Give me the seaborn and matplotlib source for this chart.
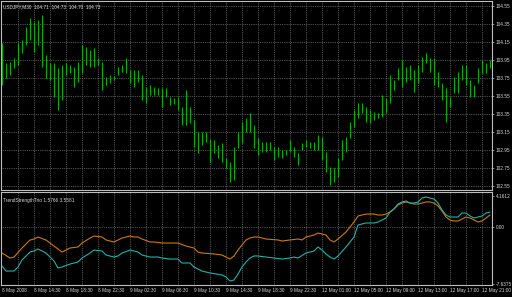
import matplotlib
matplotlib.use("Agg")
import matplotlib.pyplot as plt
import matplotlib.transforms as mtransforms
import numpy as np
import seaborn as sns

# ---------------- data ----------------
highs = [104.14,103.92,103.93,103.97,104.14,104.17,104.32,104.42,104.37,104.39,
         104.45,104.01,103.92,103.92,103.86,103.89,103.92,103.89,103.87,103.93,
         104.12,104.09,104.06,104.08,103.97,103.93,103.76,103.78,103.77,103.87,
         103.89,103.97,103.84,103.84,103.84,103.78,103.65,103.67,103.65,103.64,
         103.64,103.64,103.54,103.53,103.54,103.43,103.62,103.43,103.28,103.15,
         103.15,103.15,103.07,103.06,103.01,103.03,102.86,102.82,102.98,103.15,
         103.26,103.31,103.36,103.23,103.08,103.04,103.04,103.04,102.98,102.98,
         102.95,102.95,103.06,102.98,102.92,103.03,103.06,103.04,103.04,103.12,
         103.09,102.93,102.76,102.75,102.86,103.06,103.09,103.26,103.39,103.47,
         103.47,103.43,103.39,103.37,103.36,103.56,103.53,103.78,103.73,103.86,
         103.95,103.87,103.89,103.84,103.89,103.98,104.03,103.97,103.97,103.82,
         103.69,103.64,103.54,103.76,103.82,103.89,103.89,103.73,103.67,103.86,
         103.95,103.92,103.95]
lows = [103.67,103.75,103.78,103.86,103.89,104.03,104.12,104.17,104.04,104.12,
        103.87,103.75,103.73,103.54,103.39,103.51,103.78,103.81,103.65,103.71,
        103.81,103.89,103.87,103.87,103.89,103.62,103.67,103.69,103.73,103.78,
        103.82,103.81,103.69,103.65,103.71,103.51,103.47,103.56,103.56,103.56,
        103.43,103.54,103.45,103.46,103.39,103.23,103.23,103.25,102.98,102.92,
        103.01,103.04,102.82,102.92,102.86,102.82,102.75,102.59,102.62,102.97,
        103.03,103.15,103.15,102.97,102.89,102.93,102.93,102.95,102.84,102.87,
        102.86,102.89,102.93,102.87,102.78,102.95,102.98,102.97,102.95,102.95,
        102.84,102.71,102.56,102.59,102.65,102.84,102.93,103.08,103.21,103.31,
        103.36,103.26,103.25,103.28,103.31,103.32,103.36,103.47,103.62,103.73,
        103.65,103.71,103.73,103.59,103.69,103.82,103.92,103.82,103.67,103.65,
        103.51,103.26,103.43,103.58,103.58,103.73,103.67,103.54,103.54,103.69,
        103.81,103.81,103.86]

orange_idx = [0,2,3,5,7,8,9,11,12,13,15,16,17,19,20,22,23,25,26,28,30,32,33,34,35,
              37,38,40,42,44,46,48,49,50,53,55,56,57,58,59,60,61,62,63,64,66,69,70,
              72,74,75,76,78,79,81,82,83,84,86,87,88,89,90,91,93,94,95,96,97,98,99,
              100,101,102,103,104,105,106,107,108,109,110,111,112,113,114,115,116,
              117,118,119,120,121,122]
orange_val = [-3.49,-4.16,-4.03,-2.82,-1.75,-1.61,-1.34,-1.74,-2.15,-2.55,-3.36,-3.09,
              -2.82,-2.68,-2.15,-1.48,-1.21,-1.34,-1.74,-2.01,-1.48,-1.21,-1.34,-1.34,
              -1.61,-2.01,-2.01,-2.15,-2.15,-2.15,-2.55,-2.82,-3.36,-3.49,-3.62,-3.76,
              -4.03,-4.30,-3.89,-3.09,-2.42,-1.74,-1.48,-1.34,-1.34,-1.61,-1.74,-1.88,
              -1.74,-1.61,-1.74,-1.34,-1.07,-0.81,-1.07,-1.74,-2.01,-1.61,-0.67,0.0,
              0.67,1.48,1.61,1.74,1.74,1.61,1.61,1.74,2.01,2.42,2.95,3.22,3.36,3.22,
              3.09,3.09,3.22,3.36,3.36,3.22,2.82,2.15,1.34,0.94,0.81,0.81,1.07,1.34,
              1.21,0.94,0.67,0.81,1.21,1.61]

teal_idx = [0,1,3,4,5,7,8,9,11,12,13,14,15,17,19,20,22,23,25,26,28,29,30,32,34,35,
            37,39,40,42,44,45,47,48,50,52,55,56,57,58,59,60,61,62,63,64,66,68,70,72,
            73,74,76,78,79,80,81,82,83,84,86,88,89,91,93,94,96,97,98,99,100,101,102,
            103,104,105,106,107,108,109,110,111,112,113,114,115,116,117,118,119,120,
            121,122]
teal_val = [-5.23,-5.91,-5.91,-5.37,-4.43,-3.36,-3.22,-2.95,-3.49,-4.03,-4.56,-5.50,
            -5.37,-4.97,-4.70,-4.16,-3.49,-3.09,-3.22,-3.76,-4.03,-3.89,-3.49,-3.09,
            -3.36,-3.76,-4.03,-4.03,-4.16,-4.30,-4.30,-4.83,-4.83,-5.37,-5.91,-6.17,
            -6.44,-6.71,-7.25,-7.11,-6.31,-5.37,-4.70,-4.16,-3.89,-3.89,-4.03,-4.16,
            -4.30,-4.16,-4.03,-4.16,-3.49,-3.22,-2.68,-3.09,-3.62,-4.03,-4.30,-3.89,
            -2.68,-1.34,0.27,0.54,0.54,0.67,1.21,2.01,2.42,3.09,3.36,3.49,3.22,3.22,
            3.36,3.89,4.03,3.89,3.76,3.22,2.28,1.61,1.34,1.34,1.34,1.88,1.88,1.48,
            1.21,1.34,1.48,1.88,2.01]

price_ticks = [102.55,102.75,102.95,103.15,103.35,103.55,103.75,103.95,104.15,104.35,104.55]
ind_labels = [4.1612, 0.00, -7.6375]
time_idx = [0,8,16,24,32,40,48,56,64,72,80,88,96,104,112,120]
time_labels = ["8 May 2008","8 May 14:30","8 May 18:30","8 May 22:30","9 May 02:30",
               "9 May 06:30","9 May 10:30","9 May 14:30","9 May 18:30","9 May 22:30",
               "12 May 01:00","12 May 05:00","12 May 09:00","12 May 13:00",
               "12 May 17:00","12 May 21:00"]
main_title = "USDJPY,M30  104.71  104.73  104.70  104.73"
ind_title = "TrendStrengthTrio 1.5766 3.5581"

# ---------------- style ----------------
sns.set_theme(style="dark")
plt.rcParams['font.family'] = ['Liberation Sans', 'DejaVu Sans']
BG = "black"
GRID = "#6e6e6e"
FRAME = "#bdbdbd"
TXT = "#d8d8d8"
BAR = "#00b000"
ORANGE = "#c77c0e"
TEAL = "#20b2aa"
FS = 3.4

W, H = 512, 297
fig = plt.figure(figsize=(W/100, H/100), dpi=100, facecolor=BG)

def rect(x0, y0, x1, y1):
    return [x0/W, 1 - y1/H, (x1-x0)/W, (y1-y0)/H]

ax1 = fig.add_axes(rect(1, 1, 492, 190))
ax2 = fig.add_axes(rect(1, 192, 492, 285))

for ax in (ax1, ax2):
    ax.set_facecolor(BG)
    for s in ax.spines.values():
        s.set_color(FRAME)
        s.set_linewidth(0.8)
    ax.set_xlim(-0.25, 122.5)
    ax.grid(False)
    for gx in range(4, 121, 4):
        ax.axvline(gx, color=GRID, lw=0.6, ls=(0, (1, 1.2)), zorder=0)
    ax.set_xticks([])

# main panel
ax1.set_ylim(102.5056, 104.6056)
for p in price_ticks:
    ax1.axhline(p, color=GRID, lw=0.6, ls=(0, (1, 1.2)), zorder=0)
idx = np.arange(len(highs))
ax1.vlines(idx, lows, highs, color=BAR, lw=0.8, zorder=3)
ax1.yaxis.tick_right()
ax1.set_yticks(price_ticks)
ax1.set_yticklabels([f"{p:.2f}" for p in price_ticks], fontsize=FS, color=TXT)
ax1.tick_params(axis='y', length=1.5, width=0.5, color=FRAME, pad=1)
ax1.text(0.004, 0.985, main_title, transform=ax1.transAxes, fontsize=FS, color=TXT,
         ha='left', va='top')

# indicator panel
ax2.set_ylim(-7.785, 4.70)
ax2.axhline(0.0, color=GRID, lw=0.6, ls=(0, (1, 1.2)), zorder=0)
sns.lineplot(x=orange_idx, y=orange_val, ax=ax2, color=ORANGE, lw=0.8, zorder=3)
sns.lineplot(x=teal_idx, y=teal_val, ax=ax2, color=TEAL, lw=0.8, zorder=4)
ax2.set_xlabel("")
ax2.set_ylabel("")
ax2.yaxis.tick_right()
ax2.set_yticks(ind_labels)
ax2.set_yticklabels(["4.1612", "0.00", "-7.6375"], fontsize=FS, color=TXT)
ax2.tick_params(axis='y', length=1.5, width=0.5, color=FRAME, pad=1)
ax2.text(0.004, 0.94, ind_title, transform=ax2.transAxes, fontsize=FS, color=TXT,
         ha='left', va='top')

trans = mtransforms.blended_transform_factory(ax2.transData, ax2.transAxes)
for ti, tl in zip(time_idx, time_labels):
    ax2.text(ti, -0.055, tl, transform=trans, fontsize=FS, color=TXT,
             ha='left', va='center', clip_on=False)

fig.savefig("out.png", dpi=100, facecolor=BG)
